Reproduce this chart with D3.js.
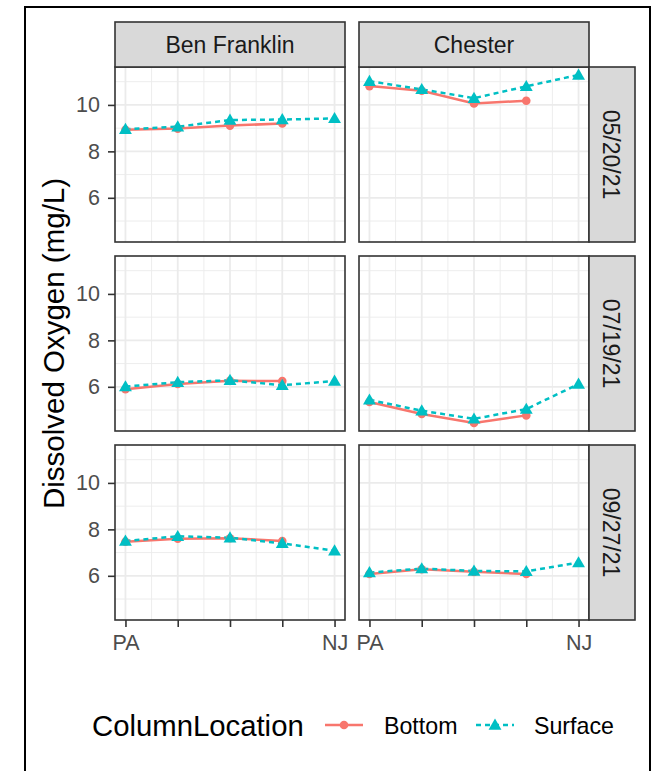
<!doctype html>
<html>
<head>
<script src="https://cdnjs.cloudflare.com/ajax/libs/d3/7.8.5/d3.min.js"></script>
<style>
  body { margin: 0; background: #fff; }
  svg { display: block; }
  text { font-family: "Liberation Sans", Arial, sans-serif; }
</style>
</head>
<body>
<svg id="chart" width="656" height="771"></svg>
<script>
var sites = ["Ben Franklin", "Chester"];
var dates = ["05/20/21", "07/19/21", "09/27/21"];
var xLabels = ["PA", "", "", "", "NJ"];
var series = ["Bottom", "Surface"];
var colors = ["#F8766D", "#00BFC4"];

// one row per date, stations PA -> NJ
var benFranklinBottom = [
  [8.93, 8.98, 9.11, 9.20],
  [5.90, 6.12, 6.26, 6.25],
  [7.47, 7.60, 7.62, 7.50]
];
var benFranklinSurface = [
  [8.95, 9.06, 9.35, 9.37, 9.42],
  [6.01, 6.20, 6.28, 6.07, 6.25],
  [7.50, 7.70, 7.64, 7.40, 7.08]
];
var chesterBottom = [
  [10.81, 10.61, 10.06, 10.18],
  [5.35, 4.83, 4.44, 4.77],
  [6.08, 6.28, 6.17, 6.08]
];
var chesterSurface = [
  [11.02, 10.67, 10.29, 10.80, 11.29],
  [5.44, 4.97, 4.62, 5.04, 6.12],
  [6.14, 6.31, 6.21, 6.19, 6.57]
];
var yTicks = [6, 8, 10];

var data = [
  [benFranklinBottom, benFranklinSurface],
  [chesterBottom, chesterSurface]
];

var svg = d3.select("#chart");

// outer frame
svg.append("rect").attr("x", 25).attr("y", 7).attr("width", 625).attr("height", 800)
  .attr("fill", "none").attr("stroke", "#000").attr("stroke-width", 2);

var panelW = 230, panelH = 175;
var colX = [115, 359];
var rowY = [67, 256, 445];
var stripH = 45, stripW = 46;

function label(parent, x, y, str, size, anchor, rot, fill) {
  return parent.append("text")
    .attr("transform", "translate(" + x + "," + y + ") rotate(" + (rot || 0) + ")")
    .attr("text-anchor", anchor)
    .attr("font-size", size)
    .attr("fill", fill || "#000")
    .text(str);
}

var all = [];
data.forEach(function (s) { s.forEach(function (rows) { rows.forEach(function (r) { all = all.concat(r); }); }); });
var ext = d3.extent(all), pad = (ext[1] - ext[0]) * 0.05;

var x = d3.scaleLinear().domain([0.8, 5.2]).range([0, panelW]);
var y = d3.scaleLinear().domain([ext[0] - pad, ext[1] + pad]).range([panelH, 0]);

var xMinor = [1.5, 2.5, 3.5, 4.5];
var yMinor = [5, 7, 9, 11];

var line = d3.line().x(function (d, i) { return x(i + 1); }).y(function (d) { return y(d); });
var tri = d3.symbol().type(d3.symbolTriangle).size(72);

dates.forEach(function (date, r) {
  sites.forEach(function (site, c) {
    var g = svg.append("g").attr("transform", "translate(" + colX[c] + "," + rowY[r] + ")");
    g.append("rect").attr("width", panelW).attr("height", panelH).attr("fill", "#fff");

    g.selectAll(".ymin").data(yMinor).enter().append("line")
      .attr("x1", 0).attr("x2", panelW).attr("y1", y).attr("y2", y)
      .attr("stroke", "#EBEBEB").attr("stroke-width", 0.9);
    g.selectAll(".xmin").data(xMinor).enter().append("line")
      .attr("y1", 0).attr("y2", panelH).attr("x1", x).attr("x2", x)
      .attr("stroke", "#EBEBEB").attr("stroke-width", 0.9);
    g.selectAll(".ymaj").data(yTicks).enter().append("line")
      .attr("x1", 0).attr("x2", panelW).attr("y1", y).attr("y2", y)
      .attr("stroke", "#EBEBEB").attr("stroke-width", 1.8);
    g.selectAll(".xmaj").data(d3.range(1, 6)).enter().append("line")
      .attr("y1", 0).attr("y2", panelH).attr("x1", x).attr("x2", x)
      .attr("stroke", "#EBEBEB").attr("stroke-width", 1.8);

    var vals = data[c];
    // lines
    vals.forEach(function (sv, k) {
      g.append("path").datum(sv[r]).attr("d", line)
        .attr("fill", "none").attr("stroke", colors[k]).attr("stroke-width", 2.5)
        .attr("stroke-dasharray", k === 1 ? "5,4" : null);
    });
    // points
    g.selectAll(".pb").data(vals[0][r]).enter().append("circle")
      .attr("cx", function (d, i) { return x(i + 1); }).attr("cy", y)
      .attr("r", 4.3).attr("fill", colors[0]);
    g.selectAll(".ps").data(vals[1][r]).enter().append("path")
      .attr("d", tri)
      .attr("transform", function (d, i) { return "translate(" + x(i + 1) + "," + (y(d) + 1) + ")"; })
      .attr("fill", colors[1]);

    g.append("rect").attr("width", panelW).attr("height", panelH)
      .attr("fill", "none").attr("stroke", "#333").attr("stroke-width", 1.6);

    if (c === 0) {
      var ya = g.append("g").call(d3.axisLeft(y).tickValues(yTicks).tickSize(7).tickPadding(8));
      ya.select(".domain").remove();
      ya.selectAll("line").attr("stroke", "#333").attr("stroke-width", 1.6);
      ya.selectAll("text").attr("font-size", 21.5).attr("fill", "#4D4D4D")
        .attr("font-family", "Liberation Sans, Arial, sans-serif");
    }
    if (r === dates.length - 1) {
      var xa = g.append("g").attr("transform", "translate(0," + panelH + ")")
        .call(d3.axisBottom(x).tickValues(d3.range(1, 6)).tickSize(7).tickPadding(8)
          .tickFormat(function (d) { return xLabels[d - 1]; }));
      xa.select(".domain").remove();
      xa.selectAll("line").attr("stroke", "#333").attr("stroke-width", 1.6);
      xa.selectAll("text").attr("font-size", 21.5).attr("fill", "#4D4D4D")
        .attr("font-family", "Liberation Sans, Arial, sans-serif");
    }
  });
});

// top strips
sites.forEach(function (site, c) {
  svg.append("rect").attr("x", colX[c]).attr("y", rowY[0] - stripH)
    .attr("width", panelW).attr("height", stripH)
    .attr("fill", "#D9D9D9").attr("stroke", "#333").attr("stroke-width", 1.6);
  label(svg, colX[c] + panelW / 2, rowY[0] - 14, site, 23, "middle", 0, "#1A1A1A");
});
// right strips
dates.forEach(function (date, r) {
  var sx0 = colX[1] + panelW;
  svg.append("rect").attr("x", sx0).attr("y", rowY[r])
    .attr("width", stripW).attr("height", panelH)
    .attr("fill", "#D9D9D9").attr("stroke", "#333").attr("stroke-width", 1.6);
  label(svg, sx0 + 14, rowY[r] + panelH / 2, date, 23, "middle", 90, "#1A1A1A");
});

// y title
label(svg, 64, (rowY[0] + rowY[2] + panelH) / 2, "Dissolved Oxygen (mg/L)", 29.5, "middle", -90, "#000");

// legend
var leg = svg.append("g");
label(leg, 92, 736, "ColumnLocation", 29.3, "start", 0, "#000");
var keyX = [325, 476], textX = [384, 534], ly = 725;
series.forEach(function (s, k) {
  leg.append("line").attr("x1", keyX[k]).attr("x2", keyX[k] + 38).attr("y1", ly).attr("y2", ly)
    .attr("stroke", colors[k]).attr("stroke-width", 2.5)
    .attr("stroke-dasharray", k === 1 ? "5,4" : null);
  if (k === 0) {
    leg.append("circle").attr("cx", keyX[k] + 19).attr("cy", ly).attr("r", 4.3).attr("fill", colors[k]);
  } else {
    leg.append("path").attr("d", tri).attr("transform", "translate(" + (keyX[k] + 19) + "," + (ly + 1) + ")")
      .attr("fill", colors[k]);
  }
  label(leg, textX[k], 734, s, 23.2, "start", 0, "#000");
});
</script>
</body>
</html>
